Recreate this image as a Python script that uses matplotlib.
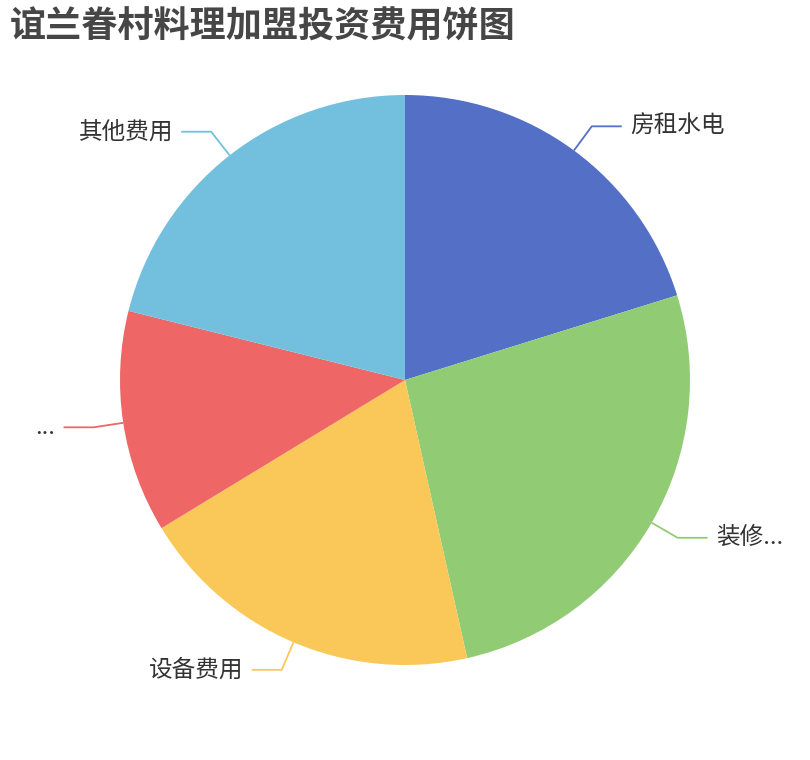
import numpy as np
import matplotlib
matplotlib.use('Agg')
import matplotlib.pyplot as plt

plt.rcParams['font.family'] = ['Noto Sans CJK SC', 'DejaVu Sans']

# Daten
title = '谊兰眷村料理加盟投资费用饼图'
labels = ['房租水电', '装修...', '设备费用', '...', '其他费用']
values = [20.2, 26.3, 19.8, 12.6, 21.1]
colors = ['#5470c6', '#91cc75', '#fac858', '#ee6666', '#73c0de']

fig = plt.figure(figsize=(8.1, 7.6), dpi=100)
ax = fig.add_axes([0, 0, 1, 1])
ax.set_aspect('equal')

cx, cy, r = 405, 380, 285
wedges, _ = ax.pie(values, colors=colors, startangle=90, counterclock=False,
                   center=(cx, cy), radius=r, frame=True)
ax.set_xlim(0, 810)
ax.set_ylim(0, 760)
ax.axis('off')

# Beschriftungen mit Führungslinien
for w, lab, col in zip(wedges, labels, colors):
    ang = np.deg2rad((w.theta1 + w.theta2) / 2)
    x0, y0 = cx + r * np.cos(ang), cy + r * np.sin(ang)
    x1, y1 = cx + (r + 30) * np.cos(ang), cy + (r + 30) * np.sin(ang)
    side = 1 if np.cos(ang) >= 0 else -1
    x2 = x1 + side * 30
    ax.plot([x0, x1, x2], [y0, y1, y1], color=col, lw=1.3, solid_capstyle='butt')
    ax.text(x2 + side * 8, y1, lab, ha='left' if side > 0 else 'right',
            va='center', fontsize=17, color='#333333')

fig.text(10 / 810, 1 - 27 / 760, title, fontsize=26, fontweight='bold',
         color='#464646', ha='left', va='center')

fig.savefig('out.png', dpi=100)
